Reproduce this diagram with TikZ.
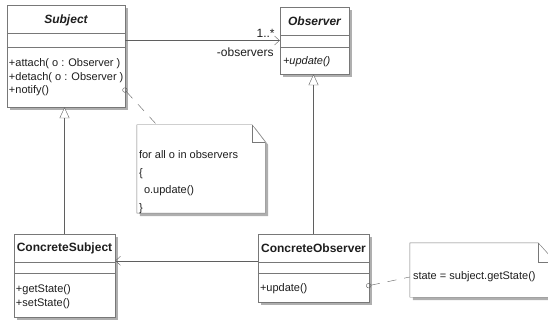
\documentclass[tikz,border=0pt]{standalone}
\usepackage{fontspec}
\setmainfont{Liberation Sans}
\usepackage{tikz}
\usetikzlibrary{arrows.meta,positioning,calc,shadows}
\definecolor{umlLine}{RGB}{95,95,95}
\definecolor{umlBorder}{RGB}{120,120,120}
\definecolor{umlShadow}{RGB}{175,175,175}
\definecolor{umlText}{RGB}{30,30,30}

\begin{document}
\begin{tikzpicture}[x=1pt,y=-1pt,
    classbox/.style={draw=umlBorder,fill=white,inner sep=0pt,
      drop shadow={shadow xshift=3pt,shadow yshift=-3pt,fill=umlShadow,opacity=1}},
    notebox/.style={inner sep=0pt},
    notepaper/.style={draw=umlBorder,fill=white,
      drop shadow={shadow xshift=3pt,shadow yshift=-3pt,fill=umlShadow,opacity=1}},
    classname/.style={inner sep=0pt,text=umlText,font=\bfseries\fontsize{12}{14}\selectfont},
    ops/.style={inner sep=0pt,anchor=north west,align=left,text=umlText,
      font=\fontsize{11}{13.5}\selectfont},
    rolelabel/.style={inner sep=0pt,text=umlText,font=\fontsize{12}{14}\selectfont},
    assoc/.style={draw=umlLine,-{Straight Barb[length=5pt,width=9pt]}},
    inherit/.style={draw=umlLine,-{Triangle[open,length=11pt,width=10pt,fill=white]}},
    notelink/.style={draw=umlLine,dash pattern=on 9pt off 8pt,{Circle[open,length=5pt]}-}]
  \path[use as bounding box] (0,0) rectangle (548,320);
  \clip (0,0) rectangle (548,320);

  % Subject
  \node[classbox,minimum width=118pt,minimum height=102pt] (subject) at (66,56) {};
  \node[classname,font=\bfseries\itshape\fontsize{12}{14}\selectfont] (subjectname)
    at ($(subject.north)+(0,16)$) {Subject};
  \foreach \dy in {28,42}
    \draw[umlBorder] ($(subject.north west)+(0,\dy)$) -- ($(subject.north east)+(0,\dy)$);
  \node[ops] (subjectops) at ($(subject.north west)+(2,54)$)
    {+attach( o : Observer )\\+detach( o : Observer )\\+notify()};

  % Observer
  \node[classbox,minimum width=69pt,minimum height=67pt] (observer) at (314.5,40.5) {};
  \node[classname,font=\bfseries\itshape\fontsize{12}{14}\selectfont] (observername)
    at ($(observer.north)+(0,14)$) {Observer};
  \foreach \dy in {28,40}
    \draw[umlBorder] ($(observer.north west)+(0,\dy)$) -- ($(observer.north east)+(0,\dy)$);
  \node[ops,font=\itshape\fontsize{11}{13.5}\selectfont] (observerops)
    at ($(observer.north west)+(3,50)$) {+update()};

  % ConcreteSubject
  \node[classbox,minimum width=101pt,minimum height=83pt] (csubject) at (64.5,275.5) {};
  \node[classname] (csubjectname) at ($(csubject.north)+(0,15)$) {ConcreteSubject};
  \foreach \dy in {28,39}
    \draw[umlBorder] ($(csubject.north west)+(0,\dy)$) -- ($(csubject.north east)+(0,\dy)$);
  \node[ops] (csubjectops) at ($(csubject.north west)+(2,51)$)
    {+getState()\\+setState()};

  % ConcreteObserver
  \node[classbox,minimum width=111pt,minimum height=68pt] (cobserver) at (313.5,268) {};
  \node[classname] (cobservername) at ($(cobserver.north)+(0,14)$) {ConcreteObserver};
  \foreach \dy in {28,39}
    \draw[umlBorder] ($(cobserver.north west)+(0,\dy)$) -- ($(cobserver.north east)+(0,\dy)$);
  \node[ops] (cobserverops) at ($(cobserver.north west)+(2,50)$) {+update()};

  % notes
  \node[notebox,minimum width=128pt,minimum height=88pt] (loopnote) at (201,169) {};
  \path[notepaper] (loopnote.north west) -- ($(loopnote.north east)+(-13,0)$)
    -- ($(loopnote.north east)+(0,17)$) -- (loopnote.south east)
    -- (loopnote.south west) -- cycle;
  \draw[umlBorder] ($(loopnote.north east)+(-13,0)$) |- ($(loopnote.north east)+(0,17)$);
  \node[ops,font=\fontsize{11}{17.4}\selectfont] (looptext) at ($(loopnote.north west)+(2,26)$)
    {for all o in observers\\\{\\\hspace*{5pt}o.update()\\\}};

  \node[notebox,minimum width=145pt,minimum height=54pt] (statenote) at (482.5,270) {};
  \path[notepaper] (statenote.north west) -- ($(statenote.north east)+(-17,0)$)
    -- ($(statenote.north east)+(0,19)$) -- (statenote.south east)
    -- (statenote.south west) -- cycle;
  \draw[umlBorder] ($(statenote.north east)+(-17,0)$) |- ($(statenote.north east)+(0,19)$);
  \node[ops,anchor=west] (statetext) at ($(statenote.west)+(3,7)$)
    {state = subject.getState()};

  % associations
  \draw[assoc] (subject.east |- observer.west) -- (observer.west);
  \node[rolelabel,anchor=south east] (mult) at ($(observer.west)+(-5,-3)$) {1..*};
  \node[rolelabel,anchor=north east] (role) at ($(observer.west)+(-6,7)$) {-observers};
  \coordinate (navport) at ($(cobserver.north west)+(0,27)$);
  \draw[assoc] (navport) -- (navport -| csubject.east);

  % generalizations
  \draw[inherit] (csubject.north) -- (csubject.north |- subject.south);
  \draw[inherit] (cobserver.north) -- (cobserver.north |- observer.south);

  % note links
  \coordinate (notifyport) at ($(subject.south east)+(-2,-19)$);
  \coordinate (loopnoteport) at ($(loopnote.north west)+(20,0)$);
  \draw[notelink] (notifyport) -- (loopnoteport);
  \coordinate (updateport) at ($(cobserver.south east)+(-3,-16)$);
  \coordinate (statenoteport) at ($(statenote.west)+(0,7)$);
  \draw[notelink] (updateport) -- (statenoteport);
\end{tikzpicture}
\end{document}
